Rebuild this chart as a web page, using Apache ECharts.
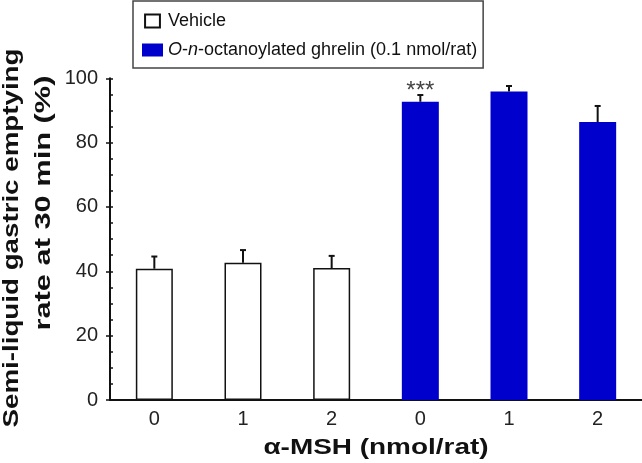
<!DOCTYPE html>
<html><head><meta charset="utf-8">
<script src="https://cdn.jsdelivr.net/npm/echarts@6/dist/echarts.min.js"></script>
<style>html,body{margin:0;padding:0;background:#fff}#chart{width:642px;height:463px}</style>
</head><body><div id="chart"></div>
<script>
// ---- data ----
const categories = ['veh-0', 'veh-1', 'veh-2', 'ghr-0', 'ghr-1', 'ghr-2'];
const tickLabels = ['0', '1', '2', '0', '1', '2'];
const vehicleMeans = [40.8, 42.7, 41.0, null, null, null];
const ghrelinMeans = [null, null, null, 92.7, 95.9, 86.4];
const semValues = [3.8, 3.9, 3.8, 2.1, 1.7, 5.0];
const sigMarks = ['', '', '', '***', '', ''];
const yTicks = [0, 20, 40, 60, 80, 100];
const legendNames = ['Vehicle', 'O-n-octanoylated ghrelin (0.1 nmol/rat)'];
const xTitle = 'α-MSH (nmol/rat)';
const yTitleLines = ['Semi-liquid gastric emptying', 'rate at 30 min (%)'];

const FONT = '"Liberation Sans", Arial, Helvetica, sans-serif';
const errData = categories.map((c, i) => [i, vehicleMeans[i] != null ? vehicleMeans[i] : ghrelinMeans[i], semValues[i]]);

const chart = echarts.init(document.getElementById('chart'), null, {renderer: 'canvas'});
chart.setOption({
  animation: false,
  backgroundColor: '#fff',
  grid: {left: 110, right: 0, top: 78.3, bottom: 63, containLabel: false},
  legend: {
    left: 133, top: 1, orient: 'vertical',
    itemWidth: 21, itemHeight: 13, itemGap: 11,
    padding: [11, 6, 9, 9],
    borderColor: '#444', borderWidth: 1.5, backgroundColor: '#fff',
    selectedMode: false,
    textStyle: {fontSize: 18, color: '#111', fontFamily: FONT,
      rich: {it: {fontStyle: 'italic', fontSize: 18, color: '#111', fontFamily: FONT}}},
    formatter: function (name) {
      return name === legendNames[1] ? '{it|O}-{it|n}-octanoylated ghrelin (0.1 nmol/rat)' : name;
    },
    data: [{name: legendNames[0], icon: 'path://M0,0H16V14H0Z'}, {name: legendNames[1], icon: 'rect'}]
  },
  xAxis: {
    type: 'category', data: categories,
    axisLine: {show: true, lineStyle: {color: '#111', width: 2}},
    axisTick: {show: false},
    axisLabel: {fontSize: 20, color: '#222', margin: 9, fontFamily: FONT,
      formatter: function (v, i) { return tickLabels[i]; }},
    splitLine: {show: false}
  },
  yAxis: [{
    type: 'value', min: yTicks[0], max: yTicks[yTicks.length - 1], interval: yTicks[1] - yTicks[0],
    axisLine: {show: true, lineStyle: {color: '#111', width: 2}},
    axisTick: {show: true, length: 4, lineStyle: {color: '#111', width: 1.5}},
    axisLabel: {fontSize: 20, color: '#222', margin: 12, fontFamily: FONT},
    splitLine: {show: false}
  }, {
    type: 'value', min: yTicks[0], max: yTicks[yTicks.length - 1], interval: 5, position: 'left', offset: 0,
    axisLine: {show: false},
    axisTick: {show: true, inside: true, length: 3, lineStyle: {color: '#111', width: 1.5}},
    axisLabel: {show: false},
    splitLine: {show: false}
  }],
  series: [{
    name: legendNames[0], type: 'bar', data: vehicleMeans, barWidth: 37, barGap: '-100%',
    itemStyle: {color: '#fff', borderColor: '#111', borderWidth: 1.5}
  }, {
    name: legendNames[1], type: 'bar', data: ghrelinMeans, barWidth: 37, barGap: '-100%',
    itemStyle: {color: '#0000CC'}
  }, {
    name: 'sem', type: 'custom', data: errData, encode: {x: 0, y: 1}, z: 5,
    renderItem: function (params, api) {
      const i = api.value(0), m = api.value(1), e = api.value(2);
      const base = api.coord([i, m]);
      const top = api.coord([i, m + e]);
      const hw = 3;
      const children = [
        {type: 'line', shape: {x1: base[0], y1: base[1], x2: top[0], y2: top[1]}, style: {stroke: '#111', lineWidth: 2}},
        {type: 'line', shape: {x1: top[0] - hw, y1: top[1], x2: top[0] + hw, y2: top[1]}, style: {stroke: '#111', lineWidth: 2}}
      ];
      const mark = sigMarks[params.dataIndex];
      if (mark) {
        children.push({type: 'text', x: top[0], y: top[1] - 4,
          style: {text: mark, fontSize: 24, fontFamily: FONT, fill: '#444', align: 'center', verticalAlign: 'middle'}});
      }
      return {type: 'group', children: children};
    }
  }],
  graphic: [{
    type: 'text', x: 376, y: 447.5, scaleX: 1.27,
    style: {text: xTitle, fontSize: 22, fontWeight: 'bold', fontFamily: FONT, fill: '#111', align: 'center', verticalAlign: 'middle'}
  }, {
    type: 'text', x: 11.5, y: 238, rotation: Math.PI / 2, scaleX: 1.26,
    style: {text: yTitleLines[0], fontSize: 22, fontWeight: 'bold', fontFamily: FONT, fill: '#111', align: 'center', verticalAlign: 'middle'}
  }, {
    type: 'text', x: 44, y: 203, rotation: Math.PI / 2, scaleX: 1.4,
    style: {text: yTitleLines[1], fontSize: 22, fontWeight: 'bold', fontFamily: FONT, fill: '#111', align: 'center', verticalAlign: 'middle'}
  }]
});
</script></body></html>
